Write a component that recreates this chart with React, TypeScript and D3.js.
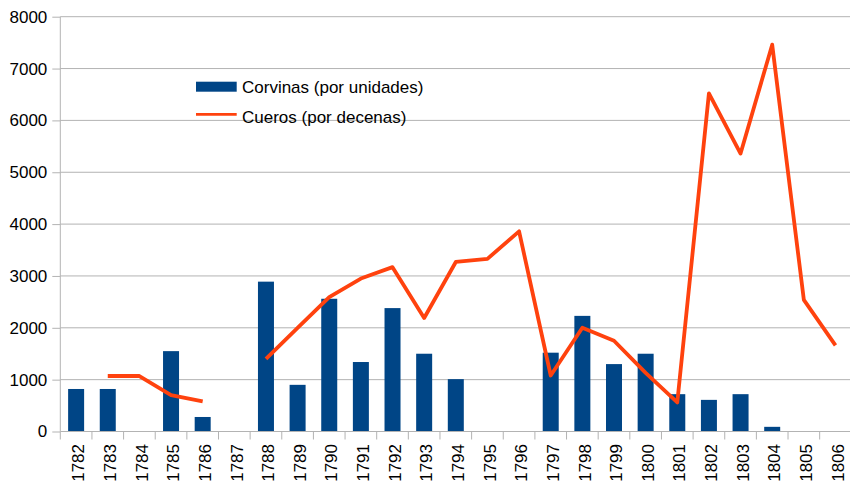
import React, { useRef, useEffect } from 'react';
import * as d3 from 'd3';

const years = ['1782', '1783', '1784', '1785', '1786', '1787', '1788', '1789', '1790', '1791', '1792', '1793', '1794', '1795', '1796', '1797', '1798', '1799', '1800', '1801', '1802', '1803', '1804', '1805', '1806'];
const corvinas: (number | null)[] = [820, 820, null, 1550, 280, null, 2890, 900, 2560, 1340, 2380, 1500, 1010, null, null, 1520, 2230, 1300, 1500, 720, 610, 720, 90, null, null];
const cueros: (number | null)[] = [null, 1070, 1070, 700, 580, null, 1400, 2000, 2590, 2950, 3170, 2190, 3270, 3330, 3860, 1080, 2000, 1750, 1130, 560, 6520, 5360, 7460, 2540, 1660];
const yTicks = [0, 1000, 2000, 3000, 4000, 5000, 6000, 7000, 8000];
const seriesNames = ['Corvinas (por unidades)', 'Cueros (por decenas)'];

const W = 850, H = 483;
const left = 60.3, right = 851.3, top = 16.7, bottom = 431.5;

const App = () => {
  const svgRef = useRef<SVGSVGElement>(null);

  useEffect(() => {
    const svg = d3.select(svgRef.current);
    svg.selectAll('*').remove();

    const x = d3.scaleBand().domain(years).range([left, right]).padding(0);
    const y = d3.scaleLinear().domain([0, 8000]).range([bottom, top]);
    const font = '"Liberation Sans", Arial, sans-serif';

    // gridlines
    svg.append('g').selectAll('line').data(yTicks.slice(1)).enter().append('line')
      .attr('x1', left).attr('x2', W)
      .attr('y1', d => y(d)).attr('y2', d => y(d))
      .attr('stroke', '#b3b3b3').attr('stroke-width', 1);

    // bars
    svg.append('g').selectAll('rect')
      .data(years.map((yr, i) => ({ yr, v: corvinas[i] })).filter(d => d.v != null))
      .enter().append('rect')
      .attr('x', d => x(d.yr)! + x.bandwidth() / 2 - 8)
      .attr('width', 16)
      .attr('y', d => y(d.v as number))
      .attr('height', d => bottom - y(d.v as number))
      .attr('fill', '#004586');

    // axes
    const yAxis = svg.append('g').attr('transform', `translate(${left},0)`)
      .call(d3.axisLeft(y).tickValues(yTicks).tickSize(8).tickPadding(5).tickFormat(d3.format('d')));
    yAxis.select('.domain').attr('stroke', '#b3b3b3').attr('d', `M-0,${top}V${bottom}`);
    yAxis.selectAll('.tick line').attr('stroke', '#b3b3b3');
    yAxis.selectAll('text').attr('fill', '#000').style('font-family', font).style('font-size', '17px');

    const ticksX = d3.range(years.length + 1).map(i => left + i * x.step());
    const xg = svg.append('g');
    xg.append('line').attr('x1', left).attr('x2', W).attr('y1', bottom).attr('y2', bottom)
      .attr('stroke', '#b3b3b3');
    xg.selectAll('line.t').data(ticksX).enter().append('line').attr('class', 't')
      .attr('x1', d => d).attr('x2', d => d).attr('y1', bottom).attr('y2', bottom + 8)
      .attr('stroke', '#b3b3b3');
    xg.selectAll('text').data(years).enter().append('text')
      .attr('transform', d => `translate(${x(d)! + x.bandwidth() / 2 + 8.2},${bottom + 12.5}) rotate(-90)`)
      .attr('text-anchor', 'end')
      .style('font-family', font).style('font-size', '17px')
      .text(d => d);

    // line
    const line = d3.line<number | null>()
      .defined(d => d != null)
      .x((_, i) => x(years[i])! + x.bandwidth() / 2)
      .y(d => y(d as number));
    svg.append('path').datum(cueros)
      .attr('d', line)
      .attr('fill', 'none').attr('stroke', '#ff420e').attr('stroke-width', 3.8)
      .attr('stroke-linejoin', 'round');

    // legend
    const lg = svg.append('g');
    lg.append('rect').attr('x', 196).attr('y', 81.7).attr('width', 40.7).attr('height', 10).attr('fill', '#004586');
    lg.append('line').attr('x1', 196).attr('x2', 236.7).attr('y1', 114.3).attr('y2', 114.3)
      .attr('stroke', '#ff420e').attr('stroke-width', 2.7);
    lg.selectAll('text').data(seriesNames).enter().append('text')
      .attr('x', 242).attr('y', (_, i) => 93 + i * 30)
      .style('font-family', font).style('font-size', '17px')
      .text(d => d);
  }, []);

  return <svg ref={svgRef} width={W} height={H} style={{ position: 'absolute', left: 0, top: 0 }} />;
};

export default App;
